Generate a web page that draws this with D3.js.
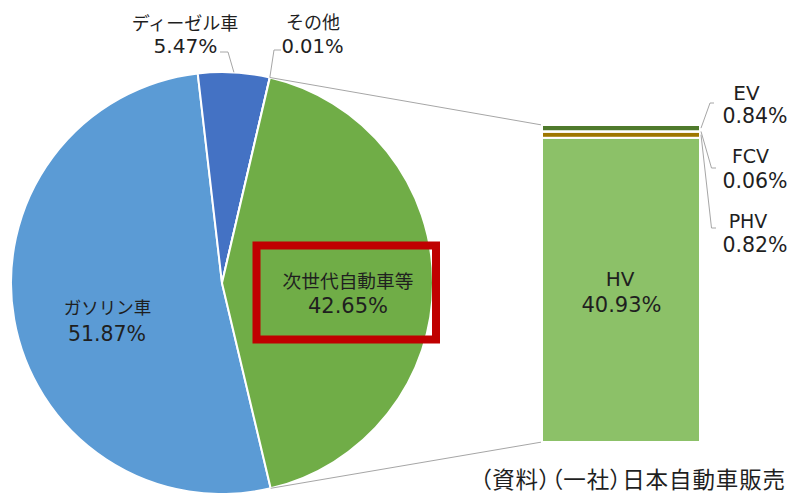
<!DOCTYPE html>
<html><head><meta charset="utf-8">
<script src="https://cdn.jsdelivr.net/npm/d3@7"></script>
<style>
html,body{margin:0;padding:0;background:#fff;overflow:hidden}
svg{display:block}
.jp{font-family:"Noto Sans CJK JP","Noto Sans CJK SC",sans-serif}
.num{font-family:"DejaVu Sans",Verdana,sans-serif}
.src{font-feature-settings:"palt" 1;letter-spacing:0.9px}
</style></head>
<body>
<svg id="chart" width="789" height="493"></svg>
<script>
// ---- data ----
const pieCategories = ["ガソリン車", "ディーゼル車", "その他", "次世代自動車等"];
const pieValues = [51.87, 5.47, 0.01, 42.65];
const barCategories = ["HV", "PHV", "FCV", "EV"];   // bottom to top
const barValues = [40.93, 0.82, 0.06, 0.84];
const sourceText = "（資料）（一社）日本自動車販売";

// ---- styles / layout ----
const pieColors = ["#5B9BD5", "#4472C4", "#A5A5A5", "#70AD47"];
const barColors = ["#8CC168", "#9E7700", "#F2F2F2", "#4F7A2C"];
const textColor = "#1f1f1f";
const lineColor = "#A6A6A6";
const W = 789, H = 493;
const cx = 222, cy = 283, R = 211;
const startDeg = 166.66;

const fmt = v => d3.format(".2f")(v) + "%";
const svg = d3.select("#chart");

// ---- pie ----
const pie = d3.pie().sort(null)
  .startAngle(startDeg * Math.PI / 180)
  .endAngle(startDeg * Math.PI / 180 + 2 * Math.PI);
const arcs = pie(pieValues);
const arc = d3.arc().innerRadius(0).outerRadius(R);
const pt = (a, rr) => [cx + rr * Math.sin(a), cy - rr * Math.cos(a)];

const gPie = svg.append("g").attr("transform", `translate(${cx},${cy})`);
gPie.selectAll("path").data(arcs).join("path")
  .attr("d", arc)
  .attr("fill", (d, i) => pieColors[i])
  .attr("stroke", "#fff").attr("stroke-width", 2).attr("stroke-linejoin", "round");

// ---- bar ----
const total = d3.sum(barValues);
const x = d3.scaleBand().domain([pieCategories[3]]).range([542, 700]).padding(0);
const y = d3.scaleLinear().domain([0, total]).range([442, 125]);
const cum = Array.from(d3.cumsum(barValues));
const segs = barValues.map((v, i) => ({ cat: barCategories[i], v, y0: cum[i] - v, y1: cum[i] }));
const bx0 = x(pieCategories[3]), bx1 = bx0 + x.bandwidth();

// connector lines between pie and bar
const other = arcs[3];
const pTop = pt(other.startAngle, R), pBot = pt(other.endAngle, R);
svg.append("line").attr("x1", pTop[0]).attr("y1", pTop[1]).attr("x2", bx0).attr("y2", y(total))
  .attr("stroke", lineColor).attr("stroke-width", 1);
svg.append("line").attr("x1", pBot[0]).attr("y1", pBot[1]).attr("x2", bx0).attr("y2", y(0))
  .attr("stroke", lineColor).attr("stroke-width", 1);

svg.append("g").selectAll("rect").data(segs).join("rect")
  .attr("x", bx0).attr("width", x.bandwidth())
  .attr("y", d => y(d.y1)).attr("height", d => y(d.y0) - y(d.y1))
  .attr("fill", (d, i) => barColors[i])
  .attr("stroke", "#fff").attr("stroke-width", 2);

// ---- leader lines ----
const leaders = [];
{
  const dD = arcs[1], dO = arcs[2];
  const mD = pt((dD.startAngle + dD.endAngle) / 2, R);
  const mO = pt((dO.startAngle + dO.endAngle) / 2, R);
  leaders.push([[220, 52], [228, 52], mD]);
  leaders.push([[281, 50], [274, 50], mO]);
}
const segMid = d => y((d.y0 + d.y1) / 2);
leaders.push([[714, 103], [710, 103], [bx1 + 1, segMid(segs[3])]]);
leaders.push([[bx1 + 1, segMid(segs[2])], [711.5, 168], [716, 168]]);
leaders.push([[bx1 + 1, segMid(segs[1])], [711.5, 228], [716, 228]]);
svg.append("g").selectAll("path").data(leaders).join("path")
  .attr("d", d => d3.line()(d))
  .attr("fill", "none").attr("stroke", lineColor).attr("stroke-width", 1);

// ---- labels ----
function label(xName, yName, xVal, yVal, name, val, nameSize, valSize) {
  const t = svg.append("text").attr("fill", textColor).attr("text-anchor", "middle");
  t.append("tspan").attr("class", /[A-Z]/.test(name) ? "num" : "jp")
    .attr("x", xName).attr("y", yName).attr("font-size", nameSize).text(name);
  t.append("tspan").attr("class", "num")
    .attr("x", xVal).attr("y", yVal).attr("font-size", valSize).text(val);
}
label(107.5, 313.5, 107, 340.7, pieCategories[0], fmt(pieValues[0]), 17.5, 20.5);
label(185, 29.5, 185.5, 53.3, pieCategories[1], fmt(pieValues[1]), 18, 20.2);
label(313, 29, 312.5, 53, pieCategories[2], fmt(pieValues[2]), 18, 19.6);
label(348, 288, 348, 312.7, pieCategories[3], fmt(pieValues[3]), 18.7, 21);
label(620, 286, 621.5, 311.7, barCategories[0], fmt(barValues[0]), 20, 21);
label(748, 228.3, 755, 251.7, barCategories[1], fmt(barValues[1]), 19, 20.5);
label(750.5, 163.3, 755, 188.3, barCategories[2], fmt(barValues[2]), 19, 20.5);
label(746.5, 100, 755, 122.7, barCategories[3], fmt(barValues[3]), 20, 20.5);

// highlight box
svg.append("rect").attr("x", 256.5).attr("y", 245.5).attr("width", 179.5).attr("height", 94)
  .attr("fill", "none").attr("stroke", "#C00000").attr("stroke-width", 8);

// source
svg.append("text").attr("class", "jp src").attr("x", 480).attr("y", 488)
  .attr("font-size", 22.5).attr("fill", textColor).text(sourceText);
</script>
</body></html>
